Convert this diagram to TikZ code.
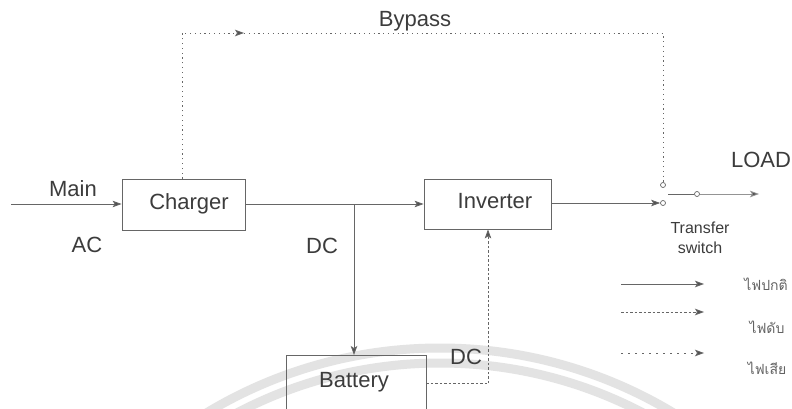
\documentclass[tikz,border=0pt]{standalone}
\usepackage{fontspec}
\setmainfont{Liberation Sans}
\newfontfamily\thaifont[Script=Thai]{Loma}
\usetikzlibrary{arrows.meta}
\definecolor{txt}{HTML}{3C3C3C}
\definecolor{ln}{HTML}{666666}
\definecolor{wm}{HTML}{E3E3E3}
\tikzset{
  box/.style={draw=ln, line width=0.8pt, rectangle, inner sep=0pt},
  lbl/.style={text=txt, inner sep=0pt, font=\fontsize{22}{26}\selectfont},
  small/.style={text=txt, inner sep=0pt, font=\fontsize{16}{19}\selectfont},
  thai/.style={text=txt!80, inner sep=0pt, font=\thaifont\fontsize{14}{16}\selectfont},
  wire/.style={draw=ln, line width=0.8pt},
  tip/.style={-{Stealth[length=9pt,width=6.5pt,inset=2pt,fill=ln!80!black]}},
  dotline/.style={wire, dash pattern=on 1.2pt off 3.6pt},
  dashline/.style={wire, dash pattern=on 2.5pt off 2pt},
  sparse/.style={wire, dash pattern=on 2pt off 5pt},
  contact/.style={circle, draw=ln, fill=white, line width=0.7pt, inner sep=0pt, minimum size=5pt},
}
\begin{document}
\begin{tikzpicture}[x=1pt,y=-1pt]
\useasboundingbox (0,0) rectangle (792,409);
\clip (0,0) rectangle (792,409);
\fill[white] (0,0) rectangle (792,409);
% watermark arcs
\draw[wm, line width=9pt] (440,800) circle[radius=452];
\draw[wm, line width=9pt] (440,800) circle[radius=437];

% boxes
\node[box, minimum width=123pt, minimum height=51pt] (charger) at (183.5,204.5) {};
\node[lbl] (chargertext) at (189,204) {Charger};
\node[box, minimum width=127pt, minimum height=50pt] (inverter) at (487.5,204) {};
\node[lbl] (invertertext) at (495,201) {Inverter};
\node[box, minimum width=140pt, minimum height=70pt, anchor=north] (battery) at (356,355) {};
\node[lbl] (batterytext) at (354,382) {Battery};

% labels
\node[lbl] (mainlbl) at (73,189) {Main};
\node[lbl] (aclbl) at (87,245) {AC};
\node[lbl] (dclbl) at (322,246) {DC};
\node[lbl] (dc2lbl) at (466,357) {DC};
\node[lbl] (bypasslbl) at (415,21) {Bypass};
\node[lbl] (loadlbl) at (761,160) {LOAD};
\node[small] (trlbl) at (700,228) {Transfer};
\node[small] (swlbl) at (700,248) {switch};

% transfer switch contacts
\node[contact] (sw1) at (663,203) {};
\node[contact] (sw2) at (663,185) {};
\node[contact] (sw3) at (697,194) {};
\coordinate (arm) at (668,194);
\coordinate (loadend) at (759,194);

% main path
\coordinate (mainin) at (11,204);
\draw[wire, tip] (mainin) -- (charger.west |- mainin);
\draw[wire, tip] (charger.east |- mainin) -- (inverter.west |- mainin);
\draw[wire, tip] (inverter.east |- sw1) -- (sw1.west);
\draw[wire] (arm) -- (sw3.west);
\draw[wire, draw=ln!70, tip] (sw3.east) -- (loadend);

% DC to battery
\coordinate (junc) at (354,204);
\draw[wire, tip] (junc) -- (junc |- battery.north);

% battery to inverter
\coordinate (bd) at (488,383);
\draw[dashline] (bd -| battery.east) -- (bd);
\draw[dashline, tip] (bd) -- (bd |- inverter.south);

% bypass
\coordinate (bp) at (182,33);
\coordinate (bparrow) at (244,33);
\draw[dotline, tip] (bp |- charger.north) -- (bp) -- (bparrow);
\draw[dotline] (bparrow) -- (bp -| sw2) -- (sw2.north);

% legend
\coordinate (l1a) at (621,284); \coordinate (l1b) at (704,284);
\coordinate (l2a) at (621,312); \coordinate (l2b) at (704,312);
\coordinate (l3a) at (621,353); \coordinate (l3b) at (704,353);
\draw[wire, tip] (l1a) -- (l1b);
\draw[dashline, tip] (l2a) -- (l2b);
\draw[sparse, tip] (l3a) -- (l3b);
\node[thai] (t1) at (766,284) {ไฟปกติ};
\node[thai] (t2) at (767,327) {ไฟดับ};
\node[thai] (t3) at (767,368) {ไฟเสีย};
\end{tikzpicture}
\end{document}
